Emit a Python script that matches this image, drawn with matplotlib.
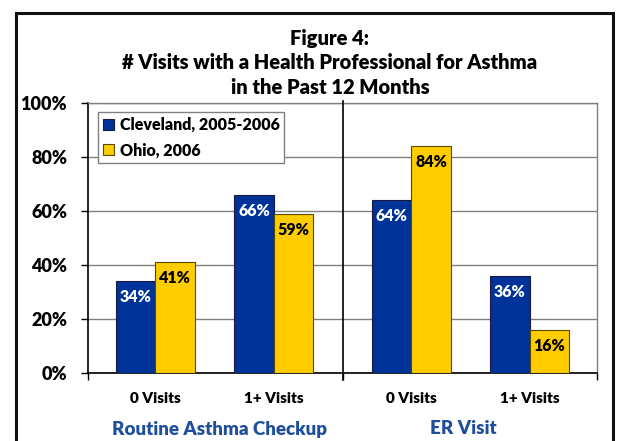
import matplotlib
matplotlib.use("Agg")
import matplotlib.pyplot as plt
from matplotlib.patches import Rectangle

plt.rcParams['font.family'] = ['Lato', 'DejaVu Sans']
WT = "heavy"
plt.rcParams['font.weight'] = WT

# ---- data ----
categories = ["0 Visits", "1+ Visits", "0 Visits", "1+ Visits"]
groups = ["Routine Asthma Checkup", "ER Visit"]
series_names = ["Cleveland, 2005-2006", "Ohio, 2006"]
cleveland = [34, 66, 64, 36]
ohio = [41, 59, 84, 16]
yticks = [0, 20, 40, 60, 80, 100]
ytick_labels = ["0%", "20%", "40%", "60%", "80%", "100%"]
title_lines = ["Figure 4:", "# Visits with a Health Professional for Asthma", "in the Past 12 Months"]

# ---- layout ----
W, H = 618, 441
fig = plt.figure(figsize=(W / 100, H / 100), dpi=100)
ax = fig.add_axes([88 / W, 1 - 373 / H, (597 - 88) / W, (373 - 103) / H])

pos = [0.53, 1.46, 2.54, 3.47]
bw = 0.31
blue = "#003399"
yellow = "#FFCC00"

b1 = ax.bar([p - bw / 2 for p in pos], cleveland, bw, color=blue, edgecolor="#1a1a40", linewidth=0.8, zorder=3)
b2 = ax.bar([p + bw / 2 for p in pos], ohio, bw, color=yellow, edgecolor="#5a4a00", linewidth=0.8, zorder=3)

for rect, v in zip(b1, cleveland):
    ax.annotate(f"{v}%", (rect.get_x() + rect.get_width() / 2, v), xytext=(0, -11.5),
                textcoords="offset points", ha="center", va="center", color="white",
                fontsize=11.5, fontweight=WT, zorder=4)
for rect, v in zip(b2, ohio):
    ax.annotate(f"{v}%", (rect.get_x() + rect.get_width() / 2, v), xytext=(0, -11.5),
                textcoords="offset points", ha="center", va="center", color="black",
                fontsize=11.5, fontweight=WT, zorder=4)

ax.set_xlim(0, 4)
ax.set_ylim(0, 100)
ax.set_yticks(yticks)
ax.set_yticklabels(ytick_labels, fontsize=13, fontweight=WT)
ax.tick_params(axis="y", direction="out", length=5, width=1, color="black", pad=10)
ax.yaxis.grid(True, color="#808080", linewidth=1, zorder=0)
ax.set_axisbelow(True)

ax.set_xticks([0, 2, 4])
ax.set_xticklabels(["", "", ""])
ax.tick_params(axis="x", which="major", direction="out", length=5, width=1, color="black")
ax.set_xticks(pos, minor=True)
ax.set_xticklabels(categories, minor=True, fontsize=11, fontweight=WT)
ax.tick_params(axis="x", which="minor", length=0, pad=14)

for s in ["left", "bottom"]:
    ax.spines[s].set_color("black")
    ax.spines[s].set_linewidth(1.2)
for s in ["top", "right"]:
    ax.spines[s].set_color("#808080")
    ax.spines[s].set_linewidth(1)

# separator between groups
ax.plot([2, 2], [-2.6, 100.8], color="black", linewidth=1.2, clip_on=False, zorder=5)

# group labels
gcol = "#1F4E9C"
for gx, g in zip([1.03, 2.95], groups):
    fig.text(ax.transData.transform((gx, 0))[0] / W, 1 - 429 / H, g, ha="center", va="center",
             fontsize=13.5, fontweight=WT, color=gcol)

# title
for i, t in enumerate(title_lines):
    fig.text(330 / W, 1 - (38 + 24.5 * i) / H, t, ha="center", va="center", fontsize=14.5, fontweight=WT)

# legend
handles = [Rectangle((0, 0), 1, 1, facecolor=blue, edgecolor="#1a1a40", linewidth=0.8),
           Rectangle((0, 0), 1, 1, facecolor=yellow, edgecolor="#5a4a00", linewidth=0.8)]
leg = ax.legend(handles, series_names, loc="upper left", bbox_to_anchor=(10 / 509, 1 - 9 / 270),
                frameon=True, fancybox=False, edgecolor="#808080", framealpha=1,
                prop={"size": 11.5, "weight": WT}, handlelength=0.7, handleheight=0.7,
                handletextpad=0.35, borderpad=0.3, labelspacing=0.6, borderaxespad=0)
leg.get_frame().set_linewidth(1)
leg.set_zorder(6)

# figure border
fig.patches.append(Rectangle((16 / W, -0.05), (613 - 16) / W, 1.05 - 13 / H, transform=fig.transFigure,
                             fill=False, edgecolor="#111111", linewidth=2.2))

fig.savefig("out.png", dpi=100)
